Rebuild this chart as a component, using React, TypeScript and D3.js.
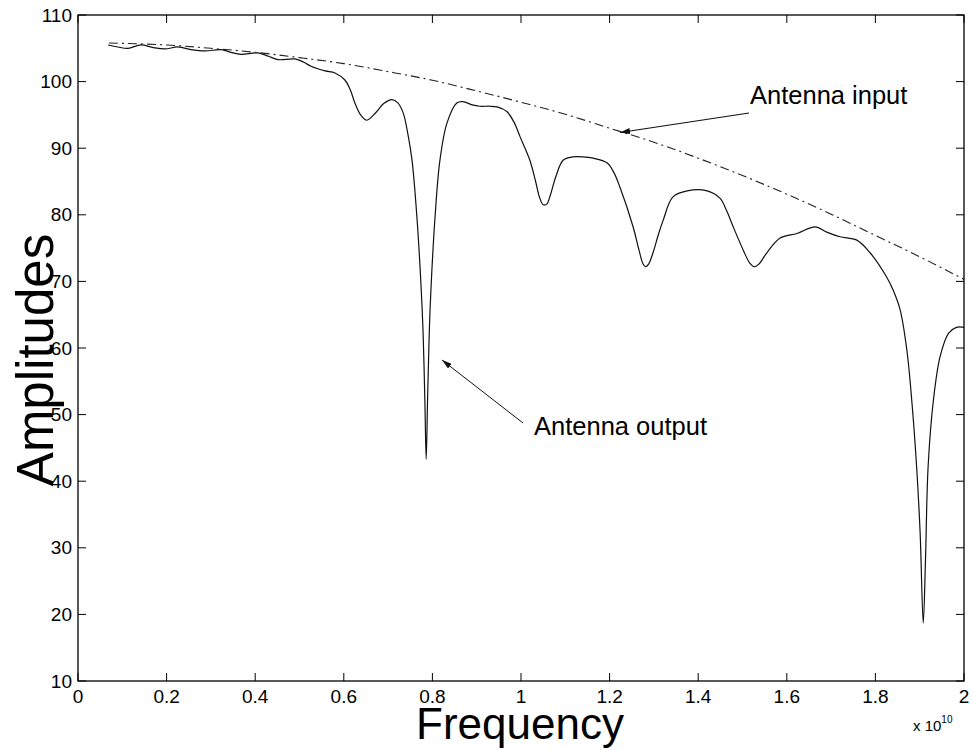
import * as d3 from "d3";
import React, {useEffect, useRef} from "react";

// frequency in units of 1e10 Hz
const inputFreq = [0.07, 0.2, 0.3, 0.4, 0.5, 0.6, 0.7, 0.8, 0.9, 1.0, 1.1, 1.2, 1.3, 1.4, 1.5, 1.6, 1.7, 1.8, 1.9, 2.0]
const inputAmp = [105.8, 105.5, 105.0, 104.4, 103.6, 102.7, 101.5, 100.2, 98.6, 96.9, 95.1, 93.0, 90.9, 88.5, 85.9, 83.1, 80.1, 76.9, 73.7, 70.3]

const outputFreq = [
    0.068, 0.09, 0.113, 0.142, 0.17, 0.196, 0.226, 0.255, 0.287, 0.323, 0.345, 0.368, 0.406, 0.43, 0.451, 0.49,
    0.51, 0.526, 0.558, 0.58, 0.603, 0.615, 0.625, 0.638, 0.652, 0.673, 0.69, 0.709, 0.722, 0.734, 0.745, 0.754,
    0.765, 0.774, 0.779, 0.783, 0.786, 0.789, 0.792, 0.795, 0.806, 0.817, 0.833, 0.855, 0.869, 0.89, 0.907, 0.93,
    0.946, 0.968, 0.985, 0.998, 1.02, 1.033, 1.042, 1.05, 1.058, 1.066, 1.078, 1.095, 1.117, 1.14, 1.163, 1.194,
    1.21, 1.223, 1.253, 1.266, 1.275, 1.281, 1.288, 1.298, 1.31, 1.321, 1.343, 1.375, 1.42, 1.449, 1.465, 1.479,
    1.503, 1.516, 1.527, 1.537, 1.555, 1.585, 1.623, 1.664, 1.69, 1.72, 1.758, 1.788, 1.825, 1.84, 1.856, 1.871,
    1.882, 1.893, 1.901, 1.908, 1.913, 1.919, 1.931, 1.946, 1.965, 1.983, 2.0
]
const outputAmp = [
    105.5, 105.2, 105.0, 105.5, 105.1, 104.9, 105.2, 104.8, 104.6, 104.8, 104.4, 104.1, 104.3, 103.8, 103.3, 103.4,
    102.9, 102.3, 101.6, 101.3, 100.2, 98.7, 96.8, 95.0, 94.2, 95.4, 96.7, 97.3, 96.8, 95.3, 92.0, 88.2,
    79.7, 69.8, 62.3, 52.0, 43.3, 52.0, 60.0, 66.2, 79.7, 88.2, 93.8, 96.8, 97.0, 96.5, 96.3, 96.3,
    96.2, 95.5, 93.8, 91.7, 88.2, 85.0, 82.6, 81.5, 81.6, 82.9, 85.6, 88.2, 88.7, 88.7, 88.5, 87.8,
    86.3, 84.2, 78.2, 74.8, 72.7, 72.2, 72.6, 74.3, 77.0, 79.2, 82.7, 83.6, 83.6, 82.5, 80.5, 78.2,
    74.5, 72.8, 72.2, 72.6, 74.3, 76.5, 77.2, 78.2, 77.4, 76.7, 76.2, 74.3, 70.7, 68.7, 65.7, 59.7,
    52.2, 42.2, 32.2, 18.7, 28.0, 42.2, 52.2, 58.7, 62.2, 63.1, 63.1
]

const xTicks = [0, 0.2, 0.4, 0.6, 0.8, 1, 1.2, 1.4, 1.6, 1.8, 2]
const yTicks = [10, 20, 30, 40, 50, 60, 70, 80, 90, 100, 110]

const FONT = "'Liberation Sans', Arial, sans-serif"

const App = () => {
    const ref = useRef(null)

    useEffect(() => {
        const svg = d3.select(ref.current)
        svg.selectAll("*").remove()

        const x = d3.scaleLinear().domain([0, 2]).range([78, 964])
        const y = d3.scaleLinear().domain([10, 110]).range([681, 15])
        const [x0, x1] = x.range()
        const [y0, y1] = y.range()

        const defs = svg.append("defs")
        defs.append("marker")
            .attr("id", "head")
            .attr("viewBox", "0 0 10 6")
            .attr("refX", 10)
            .attr("refY", 3)
            .attr("markerWidth", 10)
            .attr("markerHeight", 6)
            .attr("markerUnits", "userSpaceOnUse")
            .attr("orient", "auto")
            .append("path")
            .attr("d", "M0,0 L10,3 L0,6 Z")
            .attr("fill", "#111")

        const line = d3.line().x(d => x(d[0])).y(d => y(d[1])).curve(d3.curveCatmullRom.alpha(0.5))

        // antenna input (dash-dot)
        svg.append("path")
            .datum(d3.zip(inputFreq, inputAmp))
            .attr("d", line)
            .attr("fill", "none")
            .attr("stroke", "#222")
            .attr("stroke-width", 1.1)
            .attr("stroke-dasharray", "9,4,2,4")

        // antenna output
        svg.append("path")
            .datum(d3.zip(outputFreq, outputAmp))
            .attr("d", line)
            .attr("fill", "none")
            .attr("stroke", "#111")
            .attr("stroke-width", 1.2)

        // box
        svg.append("rect")
            .attr("x", x0).attr("y", y1)
            .attr("width", x1 - x0).attr("height", y0 - y1)
            .attr("fill", "none").attr("stroke", "#000").attr("stroke-width", 1.3)

        const ticks = svg.append("g").attr("stroke", "#000").attr("stroke-width", 1)
        xTicks.forEach(t => {
            ticks.append("line").attr("x1", x(t)).attr("x2", x(t)).attr("y1", y0).attr("y2", y0 - 8)
            ticks.append("line").attr("x1", x(t)).attr("x2", x(t)).attr("y1", y1).attr("y2", y1 + 8)
        })
        yTicks.forEach(t => {
            ticks.append("line").attr("x1", x0).attr("x2", x0 + 8).attr("y1", y(t)).attr("y2", y(t))
            ticks.append("line").attr("x1", x1).attr("x2", x1 - 8).attr("y1", y(t)).attr("y2", y(t))
        })

        const labels = svg.append("g").attr("font-family", FONT).attr("fill", "#000")
        labels.selectAll(".xl")
            .data(xTicks)
            .join("text")
            .attr("x", d => x(d))
            .attr("y", 703)
            .attr("text-anchor", "middle")
            .attr("font-size", 19)
            .text(d => String(+d.toFixed(1)))
        labels.selectAll(".yl")
            .data(yTicks)
            .join("text")
            .attr("x", 72)
            .attr("y", d => y(d) + 6.5)
            .attr("text-anchor", "end")
            .attr("font-size", 19)
            .text(d => d)

        labels.append("text")
            .attr("x", 520).attr("y", 739)
            .attr("text-anchor", "middle")
            .attr("font-size", 44)
            .text("Frequency")

        labels.append("text")
            .attr("transform", "translate(53,360) rotate(-90)")
            .attr("text-anchor", "middle")
            .attr("font-size", 51)
            .text("Amplitudes")

        const exp = labels.append("text").attr("x", 913).attr("y", 731).attr("font-size", 15)
        exp.append("tspan").text("x 10")
        exp.append("tspan").attr("dy", -8).attr("font-size", 10).text("10")

        labels.append("text")
            .attr("x", 750).attr("y", 104)
            .attr("font-size", 25.5)
            .text("Antenna input")
        labels.append("text")
            .attr("x", 534).attr("y", 435)
            .attr("font-size", 25.5)
            .text("Antenna output")

        // arrows
        svg.append("line")
            .attr("x1", 749).attr("y1", 113).attr("x2", 620).attr("y2", 132.5)
            .attr("stroke", "#111").attr("stroke-width", 1.2)
            .attr("marker-end", "url(#head)")
        svg.append("line")
            .attr("x1", 523).attr("y1", 423).attr("x2", 442).attr("y2", 360)
            .attr("stroke", "#111").attr("stroke-width", 1)
            .attr("marker-end", "url(#head)")
    }, [])

    return (
        <svg
            ref={ref}
            width={973}
            height={750}
            style={{position: "absolute", left: 0, top: 0, background: "#fff"}}
        />
    )
}

export default App
